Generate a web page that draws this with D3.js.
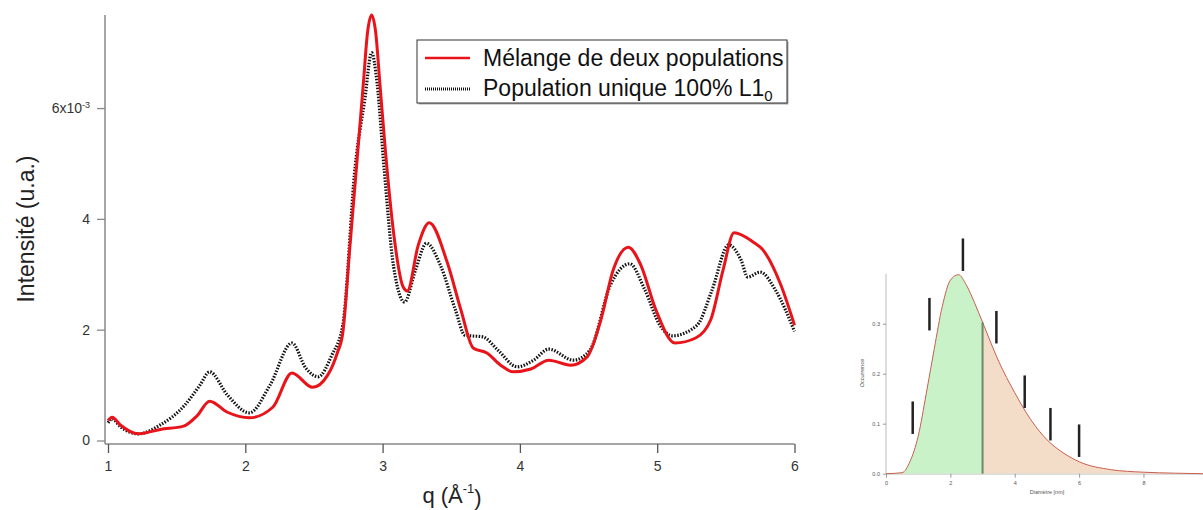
<!DOCTYPE html>
<html><head><meta charset="utf-8">
<script src="https://cdn.jsdelivr.net/npm/d3@7"></script>
<style>body{margin:0;background:#fff}svg{display:block}text{font-family:"Liberation Sans",Arial,sans-serif}</style>
</head><body><svg id="c" width="1203" height="510"></svg>
<script>
// ---- main chart data (intensity in units of 1e-3) ----
const qRed = [1.0,1.03,1.09,1.22,1.38,1.55,1.65,1.74,1.87,2.03,2.2,2.34,2.49,2.60,2.67,2.71,2.76,2.81,2.86,2.89,2.92,2.95,2.98,3.02,3.08,3.15,3.18,3.26,3.34,3.47,3.57,3.66,3.76,3.86,3.95,4.08,4.21,4.37,4.49,4.59,4.68,4.79,4.88,4.99,5.13,5.28,5.39,5.48,5.56,5.70,5.77,5.90,6.0];
const intensityRed = [0.36,0.42,0.28,0.12,0.2,0.26,0.45,0.71,0.51,0.41,0.6,1.22,0.96,1.18,1.58,1.94,3.44,4.94,6.45,7.36,7.68,7.36,6.45,5.24,3.75,2.77,2.70,3.53,3.93,3.22,2.36,1.67,1.58,1.36,1.24,1.29,1.45,1.36,1.51,2.18,3.08,3.49,3.17,2.36,1.76,1.85,2.18,3.08,3.75,3.58,3.44,2.81,2.08];
const qBlack = [1.0,1.03,1.09,1.22,1.38,1.56,1.67,1.74,1.87,2.03,2.18,2.34,2.44,2.53,2.63,2.71,2.80,2.87,2.92,2.96,3.01,3.08,3.16,3.24,3.32,3.42,3.53,3.60,3.73,3.84,3.98,4.10,4.21,4.39,4.51,4.66,4.80,4.91,5.02,5.11,5.29,5.40,5.52,5.61,5.66,5.75,5.86,6.0];
const intensityBlack = [0.32,0.39,0.25,0.12,0.28,0.64,1.0,1.24,0.82,0.50,1.0,1.76,1.31,1.15,1.54,2.08,4.94,6.15,7.0,6.45,4.94,3.14,2.50,3.08,3.56,3.17,2.36,1.90,1.87,1.63,1.33,1.45,1.65,1.45,1.63,2.81,3.19,2.72,2.08,1.89,2.08,2.72,3.53,3.26,2.95,3.04,2.72,1.97];
const xTicks = [1,2,3,4,5,6];
const yTicks = [0,2,4,6];
const seriesNames = ["Mélange de deux populations","Population unique 100% L1"];

// ---- inset data ----
const diameter = [0,0.5,0.75,1,1.25,1.5,1.75,2,2.25,2.5,2.75,3,3.5,4,4.5,5,5.5,6,7,8,9,9.85];
const occurrence = [0,0.002,0.025,0.075,0.16,0.25,0.335,0.387,0.398,0.377,0.342,0.303,0.225,0.162,0.108,0.068,0.042,0.024,0.008,0.003,0.001,0];
const cutDiameter = 3;
const insetXTicks = [0,2,4,6,8];
const insetYTicks = [0,0.1,0.2,0.3];
const markerX = [0.83,1.35,2.39,3.43,4.31,5.11,6.0];
const markerY = [0.112,0.319,0.438,0.293,0.164,0.099,0.066];
const markerLen = 0.065;

const svg = d3.select("#c");
const x = d3.scaleLinear([1,6],[108,794.5]);
const y = d3.scaleLinear([0,7.68],[440.5,15]);
const axisCol = "#888";

// axes lines
svg.append("line").attr("x1",105).attr("x2",105).attr("y1",y(7.68)).attr("y2",444).attr("stroke",axisCol).attr("stroke-width",1.5);
svg.append("line").attr("x1",105).attr("x2",x(6)).attr("y1",444).attr("y2",444).attr("stroke",axisCol).attr("stroke-width",1.5);

const yAx = svg.append("g").attr("transform","translate(105,0)")
  .call(d3.axisLeft(y).tickValues(yTicks).tickSize(8).tickPadding(7).tickFormat(d=>d===6?"":d));
yAx.select(".domain").remove();
yAx.selectAll(".tick line").attr("stroke",axisCol).attr("stroke-width",1.3);
yAx.selectAll(".tick text").attr("font-size",14).attr("fill","#333").attr("font-family","Liberation Sans, Arial");
yAx.selectAll(".tick").filter(d=>d===6).select("text").each(function(){
  const t=d3.select(this).text(null);
  t.append("tspan").text("6x10");
  t.append("tspan").attr("font-size",9).attr("dy","-0.6em").text("-3");
});

const xAx = svg.append("g").attr("transform","translate(0,444)")
  .call(d3.axisBottom(x).tickValues(xTicks).tickSize(9).tickPadding(8).tickFormat(d3.format("d")));
xAx.select(".domain").remove();
xAx.selectAll(".tick line").attr("stroke","#555").attr("stroke-width",1.3);
xAx.selectAll(".tick text").attr("font-size",14).attr("fill","#333").attr("font-family","Liberation Sans, Arial");

// axis titles
svg.append("text").attr("transform","translate(34,229) rotate(-90)").attr("text-anchor","middle")
  .attr("font-size",23).attr("fill","#222").text("Intensité (u.a.)");
const xt = svg.append("text").attr("x",452).attr("y",503).attr("text-anchor","middle").attr("font-size",22).attr("fill","#222");
xt.append("tspan").text("q (Å");
xt.append("tspan").attr("font-size",13).attr("dy","-0.75em").text("-1");
xt.append("tspan").attr("dy","0.55em").text(")");

// curves
const line = d3.line().x(d=>x(d[0])).y(d=>y(d[1])).curve(d3.curveMonotoneX);
svg.append("path").attr("d",line(d3.zip(qBlack,intensityBlack))).attr("fill","none")
  .attr("stroke","#111").attr("stroke-width",3.2).attr("stroke-dasharray","1.5,1.5");
svg.append("path").attr("d",line(d3.zip(qRed,intensityRed))).attr("fill","none")
  .attr("stroke","#e8141a").attr("stroke-width",3);

// legend
const lg = svg.append("g");
lg.append("rect").attr("x",418.5).attr("y",41.5).attr("width",370).attr("height",63).attr("fill","#aaa");
lg.append("rect").attr("x",417).attr("y",40).attr("width",370).attr("height",63).attr("fill","#fff").attr("stroke","#333").attr("stroke-width",1);
lg.append("line").attr("x1",425).attr("x2",470).attr("y1",58).attr("y2",58).attr("stroke","#e8141a").attr("stroke-width",2.5);
lg.append("line").attr("x1",425).attr("x2",470).attr("y1",89).attr("y2",89).attr("stroke","#111").attr("stroke-width",3).attr("stroke-dasharray","1,1");
lg.append("text").attr("x",483).attr("y",66).attr("font-size",23).attr("fill","#111").text(seriesNames[0]);
const l2 = lg.append("text").attr("x",483).attr("y",96).attr("font-size",23).attr("fill","#111");
l2.append("tspan").text(seriesNames[1]);
l2.append("tspan").attr("font-size",15).attr("dy","5").text("0");

// ---- inset ----
const xi = d3.scaleLinear([0,9.85],[886,1203]);
const yi = d3.scaleLinear([0,0.4],[473.7,273.7]);
const dist = d3.zip(diameter,occurrence);
const area = d3.area().x(d=>xi(d[0])).y0(yi(0)).y1(d=>yi(d[1])).curve(d3.curveMonotoneX);
svg.append("path").attr("d",area(dist.filter(d=>d[0]<=cutDiameter))).attr("fill","#c9f2c9");
svg.append("path").attr("d",area(dist.filter(d=>d[0]>=cutDiameter))).attr("fill","#f3dcc8");
const ic = svg.append("g");
ic.append("line").attr("x1",886).attr("x2",886).attr("y1",yi(0.4)).attr("y2",yi(0)).attr("stroke","#bbb").attr("stroke-width",1);
ic.append("line").attr("x1",886).attr("x2",1203).attr("y1",yi(0)+0.5).attr("y2",yi(0)+0.5).attr("stroke","#ccc").attr("stroke-width",1);
svg.append("path").attr("d",d3.line().x(d=>xi(d[0])).y(d=>yi(d[1])).curve(d3.curveMonotoneX)(dist))
  .attr("fill","none").attr("stroke","#c8604f").attr("stroke-width",1);
const cutY = occurrence[diameter.indexOf(cutDiameter)];
svg.append("line").attr("x1",xi(cutDiameter)).attr("x2",xi(cutDiameter)).attr("y1",yi(0)).attr("y2",yi(cutY))
  .attr("stroke","#6a8a68").attr("stroke-width",2);
const iya = svg.append("g").attr("transform","translate(886,0)")
  .call(d3.axisLeft(yi).tickValues(insetYTicks).tickSize(3).tickPadding(3).tickFormat(d3.format(".1f")));
iya.select(".domain").remove();
iya.selectAll(".tick line").attr("stroke","#999");
iya.selectAll(".tick text").attr("font-size",5.5).attr("fill","#555");
const ixa = svg.append("g").attr("transform",`translate(0,${yi(0)})`)
  .call(d3.axisBottom(xi).tickValues(insetXTicks).tickSize(4).tickPadding(3).tickFormat(d3.format("d")));
ixa.select(".domain").remove();
ixa.selectAll(".tick line").attr("stroke","#999");
ixa.selectAll(".tick text").attr("font-size",5.5).attr("fill","#555");
svg.append("text").attr("x",1047).attr("y",494).attr("text-anchor","middle").attr("font-size",5.5).attr("fill","#555").text("Diamètre [nm]");
svg.append("text").attr("transform","translate(864,373) rotate(-90)").attr("text-anchor","middle").attr("font-size",5.5).attr("fill","#555").text("Occurrence");
svg.append("g").selectAll("line").data(d3.zip(markerX,markerY)).join("line")
  .attr("x1",d=>xi(d[0])).attr("x2",d=>xi(d[0]))
  .attr("y1",d=>yi(d[1]+markerLen/2)).attr("y2",d=>yi(d[1]-markerLen/2))
  .attr("stroke","#222").attr("stroke-width",2.5);
</script></body></html>
